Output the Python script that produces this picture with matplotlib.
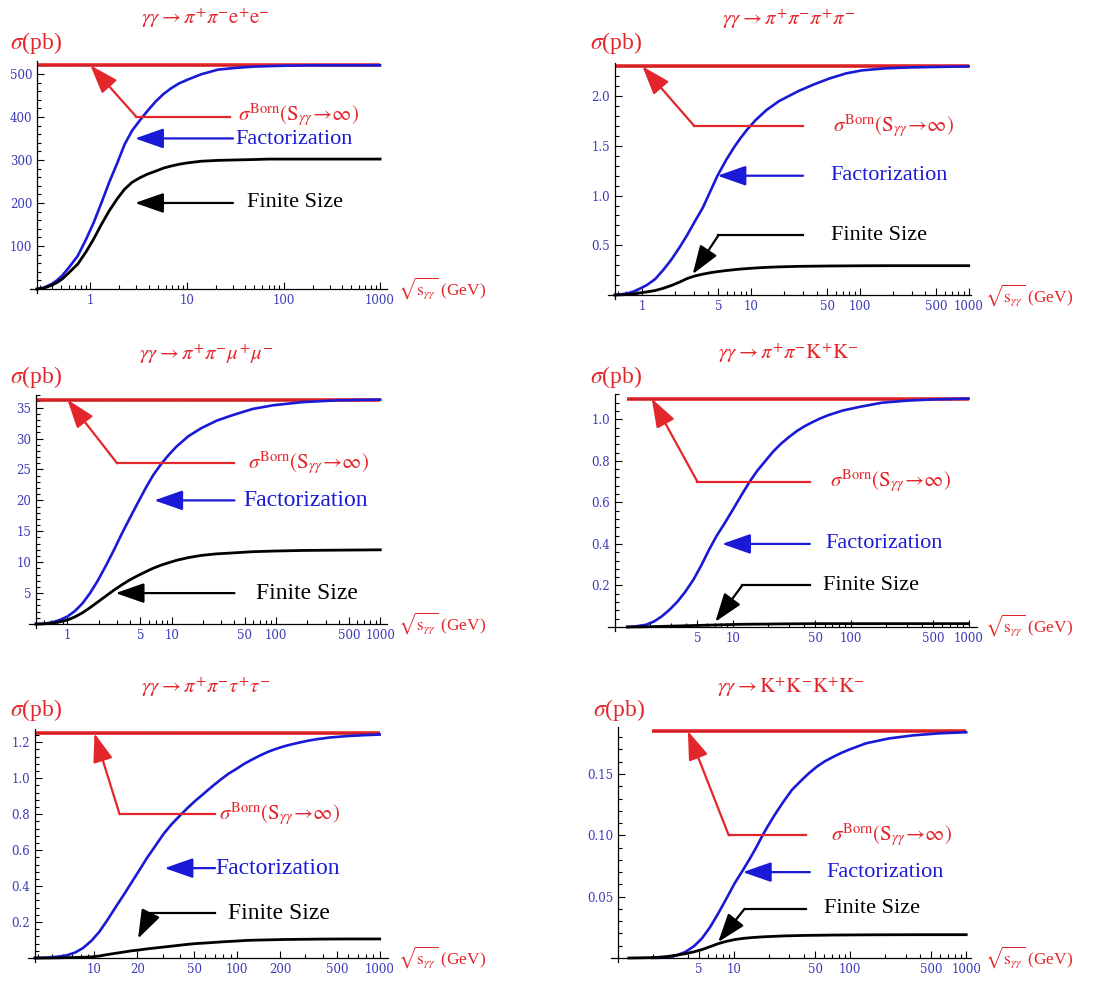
import numpy as np
import matplotlib.pyplot as plt
from matplotlib.ticker import FixedLocator, FixedFormatter, NullFormatter

plt.rcParams['font.family'] = ['Liberation Serif', 'DejaVu Serif']
plt.rcParams['mathtext.fontset'] = 'stix'

W, H = 1096, 983
RED = '#e3262b'
BLUE = '#1a1ad6'
TICKC = '#3a3ab8'

# cross sections (pb) vs sqrt(s_gg) (GeV)
# gg -> pi+ pi- e+ e-
E_ee = [0.28, 0.33, 0.4, 0.45, 0.51, 0.6, 0.74, 0.9, 1.08, 1.3,
        1.56, 1.9, 2.26, 2.7, 3.28, 3.9, 4.75, 5.7, 6.9, 8.3,
        10, 14, 21, 32, 50, 70, 100, 200, 400, 1000]
fact_ee = [0, 3, 12, 20, 31, 50, 77, 115, 154, 200,
           247, 293, 336, 368, 393, 414, 436, 453, 467, 478,
           486, 499, 510, 514, 517, 518, 519, 520, 520, 520]
fin_ee = [0, 2, 9, 15, 23, 38, 58, 86, 116, 150,
          181, 210, 232, 248, 259, 267, 274, 281, 286, 290,
          293, 297, 299, 300, 301, 302, 302, 302, 302, 302]
born_ee = 520

# gg -> pi+ pi- pi+ pi-
E_pipi = [0.56, 0.65, 0.75, 0.84, 0.93, 1.1, 1.31, 1.55, 1.83, 2.2,
          2.57, 3.0, 3.6, 4.2, 4.9, 5.9, 7.05, 8.0, 9.2, 11,
          13.8, 18, 27, 38, 53, 75, 105, 170, 300, 1000]
fact_pipi = [0, 0.008, 0.02, 0.037, 0.06, 0.1, 0.16, 0.25, 0.35, 0.48,
             0.60, 0.73, 0.88, 1.04, 1.2, 1.36, 1.495, 1.58, 1.665, 1.76,
             1.86, 1.95, 2.05, 2.12, 2.18, 2.23, 2.26, 2.28, 2.29, 2.30]
fin_pipi = [0, 0.002, 0.006, 0.012, 0.02, 0.031, 0.045, 0.067, 0.094, 0.13,
            0.165, 0.19, 0.21, 0.224, 0.235, 0.246, 0.255, 0.261, 0.266, 0.272,
            0.278, 0.283, 0.288, 0.29, 0.292, 0.293, 0.294, 0.295, 0.295, 0.295]
born_pipi = 2.3

# gg -> pi+ pi- mu+ mu-
E_mumu = [0.50, 0.56, 0.62, 0.68, 0.75, 0.86, 1.0, 1.18, 1.39, 1.65,
          1.97, 2.35, 2.78, 3.3, 3.93, 4.7, 5.55, 6.6, 7.85, 9.3,
          11.1, 14.5, 19.3, 27, 38.5, 60, 95, 180, 400, 1000]
fact_mumu = [0, 0.02, 0.08, 0.2, 0.37, 0.7, 1.2, 2.1, 3.3, 5.0,
             7.1, 9.5, 11.9, 14.5, 17.0, 19.5, 21.8, 24.0, 25.8, 27.3,
             28.7, 30.4, 31.7, 32.9, 33.8, 34.8, 35.4, 35.9, 36.2, 36.3]
fin_mumu = [0, 0.015, 0.05, 0.11, 0.2, 0.38, 0.64, 1.15, 1.8, 2.65,
            3.6, 4.55, 5.45, 6.3, 7.1, 7.8, 8.4, 9.0, 9.5, 9.9,
            10.3, 10.75, 11.1, 11.35, 11.5, 11.7, 11.8, 11.9, 11.95, 12.0]
born_mumu = 36.3

# gg -> pi+ pi- K+ K-
E_kk = [1.27, 1.5, 1.84, 2.15, 2.49, 2.9, 3.4, 3.95, 4.62, 5.4,
        6.27, 7.3, 8.53, 10, 11.6, 13.9, 16, 18.9, 22, 25.7,
        30, 35, 41, 47.6, 55, 64.6, 85, 119, 184, 300, 500, 1000]
fact_kk = [0, 0.003, 0.011, 0.027, 0.051, 0.083, 0.123, 0.17, 0.227, 0.297,
           0.371, 0.44, 0.50, 0.565, 0.627, 0.70, 0.75, 0.80, 0.845, 0.883,
           0.915, 0.944, 0.968, 0.987, 1.004, 1.02, 1.042, 1.06, 1.08, 1.09, 1.096, 1.10]
fin_kk = [0, 0.0005, 0.001, 0.002, 0.003, 0.004, 0.005, 0.006, 0.007, 0.008,
          0.009, 0.01, 0.011, 0.012, 0.013, 0.0135, 0.0138, 0.014, 0.0145, 0.015,
          0.0152, 0.0155, 0.0157, 0.016, 0.016, 0.016, 0.016, 0.016, 0.016, 0.016, 0.016, 0.016]
born_kk = 1.10

# gg -> pi+ pi- tau+ tau-
E_tautau = [3.83, 4.6, 5.65, 6.4, 7.3, 8.3, 9.5, 10.8, 12.3, 14,
            16, 18.2, 20.7, 23.5, 26.8, 30.5, 34.8, 39.5, 45, 51,
            58.5, 67, 76, 87, 98, 112, 128, 146, 166, 190,
            214, 245, 279, 320, 361, 450, 600, 800, 1000]
fact_tautau = [0, 0.002, 0.008, 0.015, 0.03, 0.055, 0.095, 0.145, 0.21, 0.28,
               0.35, 0.42, 0.49, 0.56, 0.625, 0.69, 0.745, 0.79, 0.835, 0.875,
               0.915, 0.955, 0.99, 1.025, 1.05, 1.08, 1.105, 1.128, 1.148, 1.165,
               1.178, 1.19, 1.2, 1.21, 1.217, 1.227, 1.235, 1.24, 1.243]
fin_tautau = [0, 0, 0.001, 0.002, 0.003, 0.004, 0.006, 0.011, 0.019, 0.026,
              0.033, 0.04, 0.045, 0.051, 0.056, 0.061, 0.066, 0.071, 0.076, 0.08,
              0.083, 0.086, 0.089, 0.092, 0.094, 0.097, 0.099, 0.1, 0.101, 0.102,
              0.103, 0.1035, 0.104, 0.1045, 0.105, 0.1055, 0.106, 0.106, 0.106]
born_tautau = 1.25

# gg -> K+ K- K+ K-
E_4k_fact = [1.97, 2.3, 2.75, 3.2, 3.8, 4.5, 5.27, 6.2, 7.3, 8.6,
             10.1, 11.9, 14, 15.7, 17.6, 19.4, 22.5, 26.9, 31.5, 37.3,
             44, 51.7, 61, 71.6, 84, 99, 137, 217, 350, 600, 1000]
fact_4k = [0, 0.0002, 0.0008, 0.0022, 0.0049, 0.0095, 0.0158, 0.025, 0.0363, 0.0485,
           0.0608, 0.0715, 0.0826, 0.091, 0.10, 0.107, 0.117, 0.128, 0.137, 0.144,
           0.1505, 0.156, 0.1605, 0.164, 0.1672, 0.170, 0.175, 0.179, 0.1815, 0.1832, 0.184]
E_4k_fin = [1.24, 1.5, 1.92, 2.3, 2.75, 3.2, 3.8, 4.5, 5.27, 6.2, 7.3,
            8.6, 10.1, 12, 14, 18, 26.9, 40, 71.6, 150, 400, 1000]
fin_4k = [0, 0.0001, 0.0003, 0.0007, 0.0014, 0.0023, 0.0035, 0.005, 0.0068, 0.0092, 0.0117,
          0.0136, 0.015, 0.016, 0.0166, 0.0173, 0.018, 0.0184, 0.0187, 0.0189, 0.019, 0.019]
born_4k = 0.185

titles = [r'$\gamma\gamma\rightarrow\pi^{+}\pi^{-}\mathrm{e}^{+}\mathrm{e}^{-}$',
          r'$\gamma\gamma\rightarrow\pi^{+}\pi^{-}\pi^{+}\pi^{-}$',
          r'$\gamma\gamma\rightarrow\pi^{+}\pi^{-}\mu^{+}\mu^{-}$',
          r'$\gamma\gamma\rightarrow\pi^{+}\pi^{-}\mathrm{K}^{+}\mathrm{K}^{-}$',
          r'$\gamma\gamma\rightarrow\pi^{+}\pi^{-}\tau^{+}\tau^{-}$',
          r'$\gamma\gamma\rightarrow\mathrm{K}^{+}\mathrm{K}^{-}\mathrm{K}^{+}\mathrm{K}^{-}$']

xticks = [[1, 10, 100, 1000],
          [1, 5, 10, 50, 100, 500, 1000],
          [1, 5, 10, 50, 100, 500, 1000],
          [5, 10, 50, 100, 500, 1000],
          [10, 20, 50, 100, 200, 500, 1000],
          [5, 10, 50, 100, 500, 1000]]
yticks = [[100, 200, 300, 400, 500],
          [0.5, 1.0, 1.5, 2.0],
          [5, 10, 15, 20, 25, 30, 35],
          [0.2, 0.4, 0.6, 0.8, 1.0],
          [0.2, 0.4, 0.6, 0.8, 1.0, 1.2],
          [0.05, 0.10, 0.15]]
ytick_labels = [['100', '200', '300', '400', '500'],
                ['0.5', '1.0', '1.5', '2.0'],
                ['5', '10', '15', '20', '25', '30', '35'],
                ['0.2', '0.4', '0.6', '0.8', '1.0'],
                ['0.2', '0.4', '0.6', '0.8', '1.0', '1.2'],
                ['0.05', '0.10', '0.15']]
yminor = [20, 0.1, 1, 0.04, 0.04, 0.01]

# layout: y-axis x, x-axis y, right end, top (pixels); x range; y top
frames = [(37, 289, 387, 61, 0.28, 1180, 530),
          (615, 295, 971, 63, 0.56, 1050, 2.334),
          (36, 624, 387, 395, 0.50, 1160, 37.05),
          (615, 627, 977, 394, 1.0, 1180, 1.122),
          (35, 958, 388, 729, 3.83, 1143, 1.274),
          (618, 958, 971, 727, 1.0, 1100, 0.1883)]

curves = [(E_ee, fact_ee, E_ee, fin_ee, born_ee),
          (E_pipi, fact_pipi, E_pipi, fin_pipi, born_pipi),
          (E_mumu, fact_mumu, E_mumu, fin_mumu, born_mumu),
          (E_kk, fact_kk, E_kk, fin_kk, born_kk),
          (E_tautau, fact_tautau, E_tautau, fin_tautau, born_tautau),
          (E_4k_fact, fact_4k, E_4k_fin, fin_4k, born_4k)]

# arrow paths (data coords, last point is the tip) and label anchors
born_arrows = [[(28, 400), (3, 400), (1.0, 520)],
               [(30, 1.7), (3, 1.7), (1.0, 2.3)],
               [(40, 26), (3, 26), (1.0, 36.3)],
               [(45, 0.7), (5, 0.7), (2.05, 1.1)],
               [(70, 0.8), (15, 0.8), (10, 1.25)],
               [(42, 0.10), (9, 0.10), (4, 0.185)]]
fact_arrows = [[(30, 350), (2.9, 350)],
               [(30, 1.2), (4.9, 1.2)],
               [(40, 20), (6.8, 20)],
               [(45, 0.4), (8.1, 0.4)],
               [(70, 0.5), (31, 0.5)],
               [(45, 0.07), (11.9, 0.07)]]
fin_arrows = [[(30, 200), (2.9, 200)],
              [(30, 0.6), (5, 0.6), (2.9, 0.21)],
              [(40, 5), (2.9, 5)],
              [(45, 0.2), (12, 0.2), (7.1, 0.025)],
              [(70, 0.25), (24.8, 0.25), (20.2, 0.108)],
              [(42, 0.04), (12.3, 0.04), (7.3, 0.013)]]
born_text = [(34, 404), (57, 1.7), (54, 26), (67, 0.7), (75, 0.8), (68, 0.10)]
fact_text = [(32, 348), (54, 1.2), (49, 20), (61, 0.4), (70, 0.5), (62, 0.07)]
fin_text = [(42, 200), (54, 0.6), (65, 5), (58, 0.2), (87, 0.25), (59, 0.04)]
label_size = [16, 16, 17, 16, 17, 16]

title_pos = [(206, 18), (789, 19), (206, 354), (788, 353), (206, 687), (791, 687)]
ylab_pos = [(10, 43), (590, 43), (10, 377), (590, 377), (10, 710), (593, 710)]
xlab_pos = [(398, 288), (985, 295), (398, 623), (985, 625), (398, 957), (985, 957)]

fig = plt.figure(figsize=(W / 100, H / 100), dpi=100)


def arrow(ax, pts, color):
    xs, ys = zip(*pts)
    if len(pts) > 2:
        ax.plot(xs[:-1], ys[:-1], color=color, lw=1.6, solid_joinstyle='miter')
    ax.annotate('', xy=pts[-1], xytext=pts[-2],
                arrowprops=dict(arrowstyle='-|>,head_length=0.8,head_width=0.28',
                                color=color, lw=1.6, shrinkA=0, shrinkB=0,
                                mutation_scale=22))


for i in range(6):
    xl, yb, xr, yt, x0, x1, ytop = frames[i]
    ax = fig.add_axes([(xl - 7) / W, 1 - (yb + 4) / H, (xr - xl + 7) / W, (yb + 4 - yt) / H])
    ppd = (xr - xl) / np.log10(x1 / x0)
    ppu = (yb - yt) / ytop
    ax.set_xscale('log')
    ax.set_xlim(x0 / 10 ** (7 / ppd), x1)
    ax.set_ylim(-4 / ppu, ytop)
    ax.patch.set_alpha(0)
    for s in ['top', 'right']:
        ax.spines[s].set_visible(False)
    ax.spines['left'].set_position(('data', x0))
    ax.spines['bottom'].set_position(('data', 0))
    for s in ['left', 'bottom']:
        ax.spines[s].set_linewidth(0.9)

    # ticks
    ax.xaxis.set_major_locator(FixedLocator(xticks[i]))
    ax.xaxis.set_major_formatter(FixedFormatter([str(v) for v in xticks[i]]))
    minors = [k * 10.0 ** n for n in range(-1, 4) for k in range(1, 10)
              if x0 <= k * 10.0 ** n <= x1 and k * 10.0 ** n not in xticks[i]]
    ax.xaxis.set_minor_locator(FixedLocator(minors))
    ax.xaxis.set_minor_formatter(NullFormatter())
    ax.yaxis.set_major_locator(FixedLocator(yticks[i]))
    ax.yaxis.set_major_formatter(FixedFormatter(ytick_labels[i]))
    ymin_t = np.arange(yminor[i], ytop, yminor[i])
    ax.yaxis.set_minor_locator(FixedLocator(ymin_t))
    ax.tick_params(which='both', direction='in', labelcolor=TICKC, width=0.8)
    ax.tick_params(which='major', length=5)
    ax.tick_params(which='minor', length=2.8)
    for lab in ax.get_xticklabels() + ax.get_yticklabels():
        lab.set_family(['DejaVu Serif'])
        lab.set_fontsize(8.5)

    Ef, fact, Eb, fin, born = curves[i]
    ax.plot([Ef[0], 1000], [born, born], color=RED, lw=2.6, solid_capstyle='butt')
    ax.plot([Ef[0], 1000], [born, born], color='#a01515', lw=0.8, ls=(0, (1, 1.5)))
    ax.plot(Ef, fact, color=BLUE, lw=1.9)
    ax.plot(Eb, fin, color='black', lw=2.0)

    arrow(ax, born_arrows[i], RED)
    arrow(ax, fact_arrows[i], BLUE)
    arrow(ax, fin_arrows[i], 'black')
    ax.text(*born_text[i], r'$\sigma^{\mathrm{Born}}(\mathrm{S}_{\gamma\gamma}\!\rightarrow\!\infty)$',
            color=RED, fontsize=15, ha='left', va='center')
    ax.text(*fact_text[i], 'Factorization', color=BLUE, fontsize=label_size[i],
            ha='left', va='center')
    ax.text(*fin_text[i], 'Finite Size', color='black', fontsize=label_size[i],
            ha='left', va='center')

    fig.text(title_pos[i][0] / W, 1 - title_pos[i][1] / H, titles[i], color=RED,
             fontsize=15, ha='center', va='center')
    fig.text(ylab_pos[i][0] / W, 1 - ylab_pos[i][1] / H, r'$\sigma$(pb)', color=RED,
             fontsize=17, ha='left', va='center')
    fig.text(xlab_pos[i][0] / W, 1 - xlab_pos[i][1] / H,
             r'$\sqrt{\mathrm{s}_{\gamma\gamma}}$ (GeV)', color=RED,
             fontsize=12.5, ha='left', va='center')

fig.savefig('out.png', dpi=100, facecolor='white')
